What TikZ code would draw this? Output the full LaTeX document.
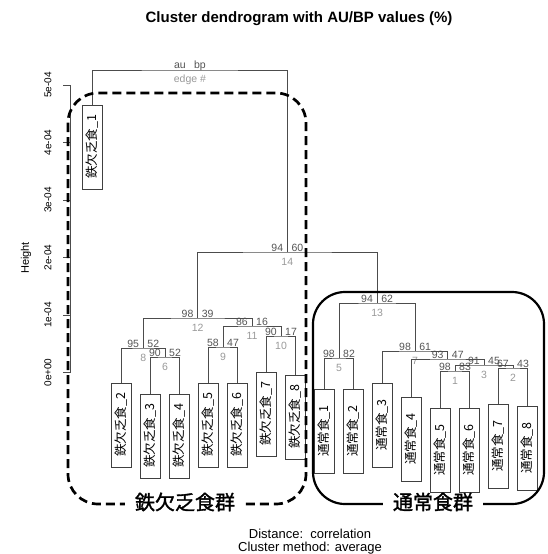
\documentclass[tikz,border=0pt]{standalone}
\usepackage{fontspec}
\setmainfont{Liberation Sans}
\newfontfamily\jpfont{Noto Sans CJK JP}
\newfontfamily\jpgroupfont[FakeBold=1.6]{Noto Sans CJK JP}
\definecolor{edgecol}{gray}{0.3}
\definecolor{boxcol}{gray}{0.25}
\definecolor{aucol}{gray}{0.33}
\definecolor{numcol}{gray}{0.6}
\begin{document}
\begin{tikzpicture}[x=1pt,y=-1pt,
  edge/.style={draw=edgecol, line width=0.9pt},
  leaf/.style={draw=boxcol, line width=0.7pt, fill=white, rotate=90,
    minimum width=84pt, minimum height=19.5pt, inner sep=0pt,
    font=\jpfont\fontsize{12.5}{14}\selectfont},
  aulab/.style={anchor=east, inner sep=0pt, text=aucol, font=\fontsize{10.5}{12}\selectfont},
  bplab/.style={anchor=west, inner sep=0pt, text=aucol, font=\fontsize{10.5}{12}\selectfont},
  edgenum/.style={inner sep=0pt, text=numcol, font=\fontsize{10.5}{12}\selectfont},
  ticklab/.style={rotate=90, inner sep=0pt, font=\fontsize{10}{12}\selectfont},
  grouplabel/.style={fill=white, inner xsep=10pt, inner ysep=0pt,
    font=\jpgroupfont\fontsize{20}{24}\selectfont}
]
\useasboundingbox (0,0) rectangle (547,554);

% title and captions
\node[font=\bfseries\fontsize{15}{18}\selectfont] (title) at (299,19) {Cluster dendrogram with AU/BP values (\%)};
\node[font=\fontsize{13}{15}\selectfont] (dist) at (310,534) {Distance:\ \ correlation};
\node[font=\fontsize{13}{15}\selectfont] (meth) at (310,548) {Cluster method: average};

% height axis
\draw[edgecol, line width=0.8pt] (70,85) -- (70,372.5);
\foreach \v/\lab in {0/0e+00,1/1e-04,2/2e-04,3/3e-04,4/4e-04,5/5e-04}{
  \draw[edgecol, line width=0.8pt] (70,372.5-57.5*\v) -- (63,372.5-57.5*\v);
  \node[ticklab] (tick\v) at (48,372.5-57.5*\v) {\lab};
}
\node[rotate=90, font=\fontsize{11}{13}\selectfont] (ylab) at (26,258) {Height};

% leaves
\node[leaf] (L0)  at (92.5,147)  {鉄欠乏食\_1};
\node[leaf] (L1)  at (121.5,425) {鉄欠乏食\_2};
\node[leaf] (L2)  at (150.5,436) {鉄欠乏食\_3};
\node[leaf] (L3)  at (179.5,436) {鉄欠乏食\_4};
\node[leaf] (L4)  at (208.5,425) {鉄欠乏食\_5};
\node[leaf] (L5)  at (237.5,425) {鉄欠乏食\_6};
\node[leaf] (L6)  at (266.5,414) {鉄欠乏食\_7};
\node[leaf] (L7)  at (295.5,417) {鉄欠乏食\_8};
\node[leaf] (L8)  at (324.5,431) {通常食\_1};
\node[leaf] (L9)  at (353.5,431) {通常食\_2};
\node[leaf] (L10) at (382.5,425) {通常食\_3};
\node[leaf] (L11) at (411.5,439) {通常食\_4};
\node[leaf] (L12) at (440.5,450) {通常食\_5};
\node[leaf] (L13) at (469.5,450) {通常食\_6};
\node[leaf] (L14) at (498.5,446) {通常食\_7};
\node[leaf] (L15) at (527.5,448) {通常食\_8};

% merge points with au / bp values and edge numbers
\foreach \n/\x/\y/\a/\b/\e in {
  m1/455/371/98/83/1, m2/513/368/67/43/2, m3/484/365/91/45/3,
  m4/447.75/359/93/47/, m5/339/358/98/82/5, m6/165/357/90/52/6,
  m7/415.1/351/98/61/7, m8/143.25/348/95/52/8, m9/223/347/58/47/9,
  m10/281/336/90/17/10, m11/252/326/86/16/11, m12/197.6/318/98/39/12,
  m13/377.1/303/94/62/13, m14/287.3/252/94/60/14, m0/189.9/70/au/bp/edge \#}{
  \coordinate (\n) at (\x,\y);
  \node[aulab] (\n-au) at (\x-4,\y-4.5) {\a};
  \node[bplab] (\n-bp) at (\x+4,\y-4.5) {\b};
  \node[edgenum] (\n-e) at (\x,\y+10) {\e};
}

% dendrogram edges
\draw[edge] (L12.east) |- (m1) -| (L13.east);
\draw[edge] (L14.east) |- (m2) -| (L15.east);
\draw[edge] (m1) |- (m3) -| (m2);
\draw[edge] (L11.east) |- (m4) -| (m3);
\draw[edge] (L8.east) |- (m5) -| (L9.east);
\draw[edge] (L2.east) |- (m6) -| (L3.east);
\draw[edge] (L10.east) |- (m7) -| (m4);
\draw[edge] (L1.east) |- (m8) -| (m6);
\draw[edge] (L4.east) |- (m9) -| (L5.east);
\draw[edge] (L6.east) |- (m10) -| (L7.east);
\draw[edge] (m9) |- (m11) -| (m10);
\draw[edge] (m8) |- (m12) -| (m11);
\draw[edge] (m5) |- (m13) -| (m7);
\draw[edge] (m12) |- (m14) -| (m13);
\draw[edge] (L0.east) |- (m0) -| (m14);

% group frames
\draw[line width=2.7pt, dash pattern=on 9pt off 5pt, rounded corners=30pt] (68,93) rectangle (306,504);
\draw[line width=2.2pt, rounded corners=32pt] (313,292) rectangle (544,504);
\node[grouplabel] (g1) at (185,502) {鉄欠乏食群};
\node[grouplabel] (g2) at (433,502) {通常食群};
\end{tikzpicture}
\end{document}
